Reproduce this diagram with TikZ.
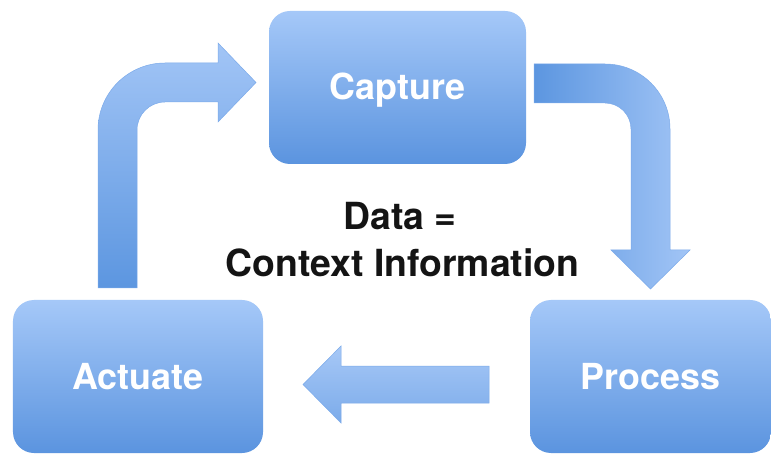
\documentclass[tikz,border=0pt]{standalone}
\usepackage{fontspec}
\setmainfont{TeX Gyre Heros}
\definecolor{boxtop}{HTML}{A5C8F8}
\definecolor{boxmid}{HTML}{94BBF2}
\definecolor{boxbot}{HTML}{5B94DF}
\definecolor{arrowlight}{HTML}{A2C5F6}
\definecolor{arrowdark}{HTML}{5C96E0}
\definecolor{arrowedge}{HTML}{7BAAEA}
\definecolor{inktext}{HTML}{141414}
\begin{document}
\begin{tikzpicture}[x=1bp,y=-1bp,
  stagebox/.style={rounded corners=21bp, minimum height=153bp, inner sep=0pt,
    text height=25bp, text depth=0bp,
    top color=boxtop, middle color=boxmid, bottom color=boxbot,
    text=white, font=\fontsize{36}{42}\selectfont\bfseries},
  centrelabel/.style={anchor=base, text=inktext, font=\fontsize{37.5}{46}\selectfont\bfseries},
  flowarrow/.style={draw=arrowedge, line width=0.5bp, line join=miter}]
\useasboundingbox (0,0) rectangle (771,454);
\fill[white] (0,0) rectangle (771,454);

% the three stages of the loop
\node[stagebox, minimum width=257bp] (capture) at (397.5,87.5) {Capture};
\node[stagebox, minimum width=241bp] (process) at (650.5,376.5) {Process};
\node[stagebox, minimum width=250bp] (actuate) at (138,376.5) {Actuate};

% central statement
\node[centrelabel] (dataeq) at (400,230) {Data =};
\node[centrelabel] (context) at (402.5,277) {Context Information};

% Actuate -> Capture: up, round the corner, into Capture
\path[flowarrow, top color=arrowlight, bottom color=arrowdark]
  (98,288) -- (98,130) arc[start angle=180, end angle=270, radius=67]
  -- (218,63) -- (218,43) -- (256,82.5) -- (218,122) -- (218,102) -- (165,102)
  arc[start angle=270, end angle=180, radius=28] -- (137,288) -- cycle;

% Capture -> Process: right, round the corner, down onto Process
\path[flowarrow, left color=arrowdark, right color=arrowlight]
  (534,64) -- (605,64) arc[start angle=270, end angle=360, radius=65]
  -- (670,250) -- (690,250) -- (650.5,289) -- (611,250) -- (631,250) -- (631,129)
  arc[start angle=360, end angle=270, radius=26] -- (534,103) -- cycle;

% Process -> Actuate: straight arrow pointing left
\path[flowarrow, top color=arrowlight!95!white, bottom color=arrowdark!55!arrowlight]
  (489,366) -- (341,366) -- (341,346) -- (303,384.5) -- (341,423) -- (341,403)
  -- (489,403) -- cycle;
\end{tikzpicture}
\end{document}
